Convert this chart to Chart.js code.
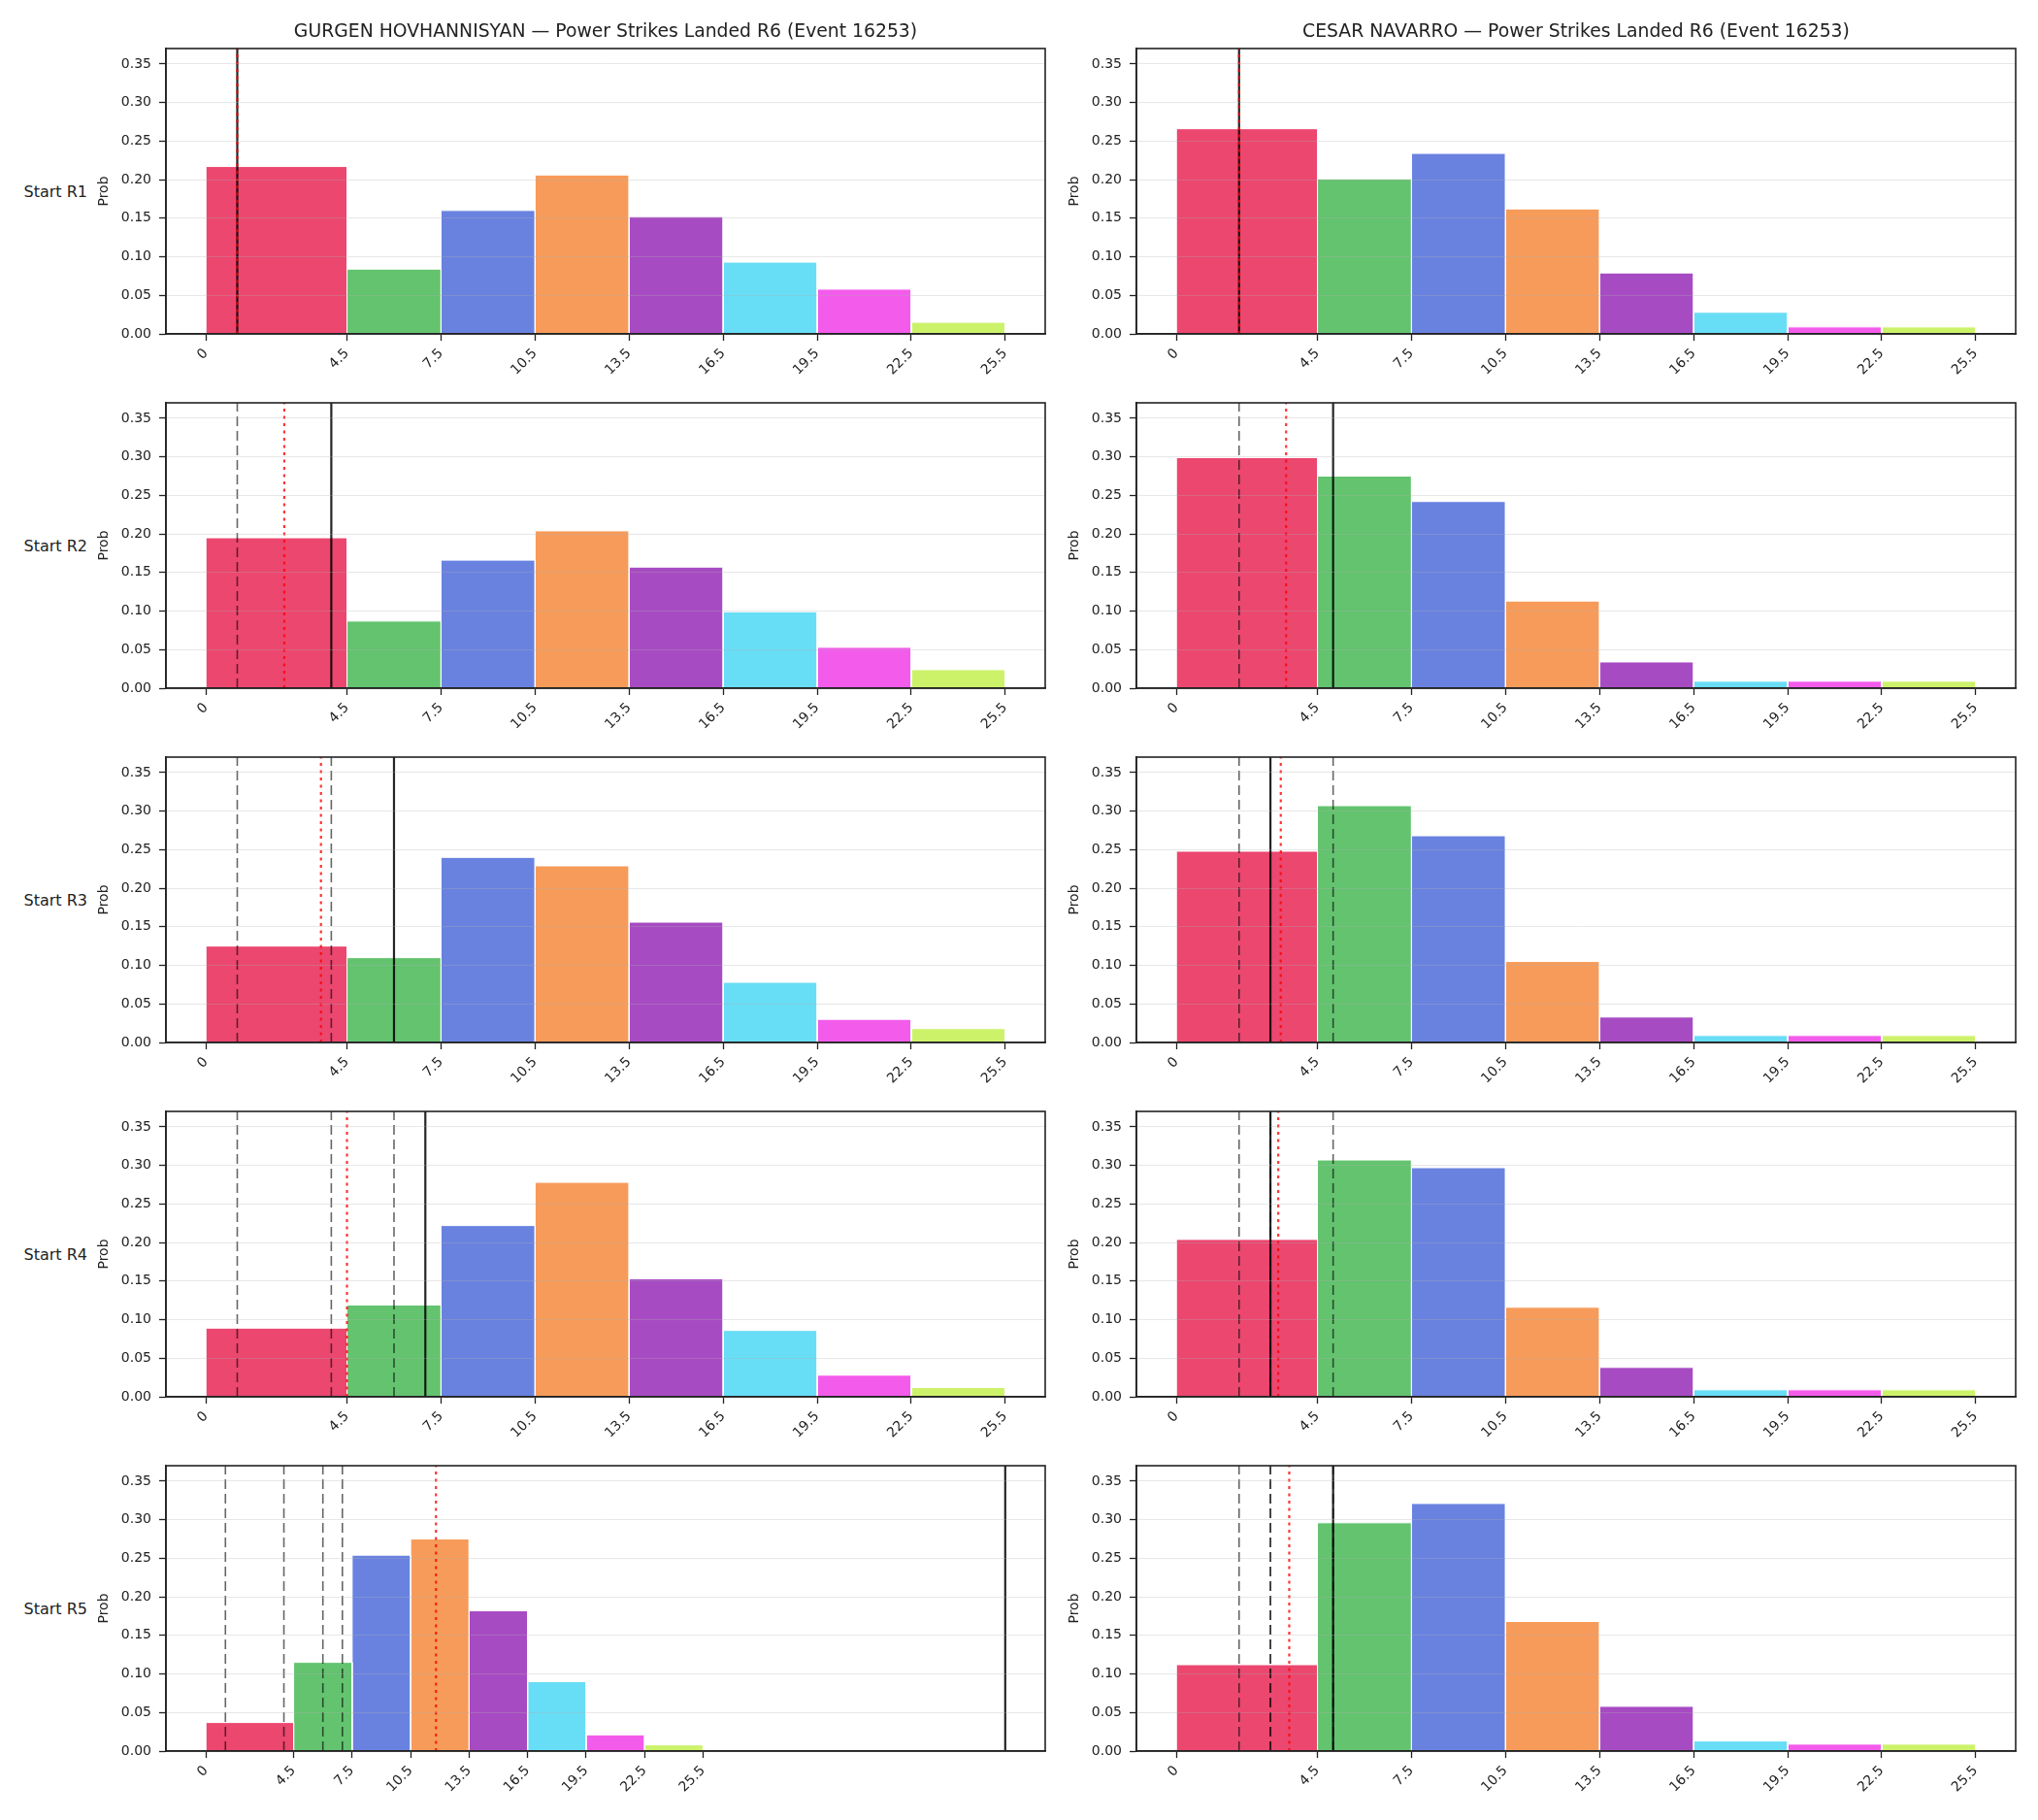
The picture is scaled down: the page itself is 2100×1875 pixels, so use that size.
<!DOCTYPE html>
<html lang="en">
<head>
<meta charset="UTF-8">
<title>Power Strikes Landed R6 (Event 16253)</title>
<script src="https://cdn.jsdelivr.net/npm/chart.js@4.4.1/dist/chart.umd.min.js"></script>
<style>
  body {
    margin: 0;
    width: 2100px;
    height: 1875px;
    position: relative;
    overflow: hidden;
    background: #fff;
    font-family: 'DejaVu Sans', sans-serif;
    color: #222;
  }
  canvas { position: absolute; }
  .title {
    position: absolute;
    font-size: 18.8px;
    white-space: nowrap;
    transform: translate(-50%, -50%);
  }
  .row-label {
    position: absolute;
    font-size: 16px;
    white-space: nowrap;
    transform: translate(-100%, -50%);
  }
</style>
</head>
<body>
<script>
// bin edges double as the x tick labels
const BIN_EDGES = [0, 4.5, 7.5, 10.5, 13.5, 16.5, 19.5, 22.5, 25.5];
const Y_TICKS = [0, 0.05, 0.10, 0.15, 0.20, 0.25, 0.30, 0.35];
const Y_MAX = 0.37;
const START_LABELS = ['Start R1', 'Start R2', 'Start R3', 'Start R4', 'Start R5'];
const FIGHTERS = ['GURGEN HOVHANNISYAN', 'CESAR NAVARRO'];

// probability per bin, one row per start round
const GURGEN_PROBS = [
  [0.217, 0.084, 0.160, 0.206, 0.152, 0.093, 0.058, 0.015],
  [0.195, 0.087, 0.166, 0.204, 0.157, 0.099, 0.053, 0.024],
  [0.125, 0.110, 0.240, 0.229, 0.156, 0.078, 0.030, 0.018],
  [0.089, 0.119, 0.222, 0.278, 0.153, 0.086, 0.028, 0.012],
  [0.037, 0.115, 0.254, 0.275, 0.182, 0.090, 0.021, 0.008]
];
const CESAR_PROBS = [
  [0.266, 0.201, 0.234, 0.162, 0.079, 0.028, 0.009, 0.009],
  [0.299, 0.275, 0.242, 0.113, 0.034, 0.009, 0.009, 0.009],
  [0.248, 0.307, 0.268, 0.105, 0.033, 0.009, 0.009, 0.009],
  [0.204, 0.307, 0.297, 0.116, 0.038, 0.009, 0.009, 0.009],
  [0.112, 0.296, 0.321, 0.168, 0.058, 0.013, 0.009, 0.009]
];

// landed per round (solid = current round, dashed = earlier rounds)
const GURGEN_LANDED = [1, 4, 6, 7, 41];
const CESAR_LANDED = [2, 5, 3, 3, 5];
// running average (red dotted)
const GURGEN_AVG = [1, 2.5, 3.67, 4.5, 11.8];
const CESAR_AVG = [2, 3.5, 3.33, 3.25, 3.6];

const BIN_COLORS = [
  'rgba(230,25,75,0.8)', 'rgba(60,180,75,0.8)', 'rgba(67,99,216,0.8)', 'rgba(245,130,49,0.8)',
  'rgba(145,30,180,0.8)', 'rgba(66,212,244,0.8)', 'rgba(240,50,230,0.8)', 'rgba(191,239,69,0.8)'
];

Chart.defaults.font.family = "'DejaVu Sans', sans-serif";
Chart.defaults.color = '#222';

const frame = {
  id: 'frame',
  afterDraw(chart) {
    const { ctx, chartArea: a } = chart;
    ctx.save();
    ctx.strokeStyle = '#222';
    ctx.lineWidth = 1.6;
    ctx.strokeRect(a.left, a.top, a.right - a.left, a.bottom - a.top);
    ctx.restore();
  }
};

const GREY = { borderColor: 'rgba(0,0,0,0.6)', borderWidth: 1.6, borderDash: [10, 5], order: 2 };
const BLACK = { borderColor: 'rgba(0,0,0,0.85)', borderWidth: 2.2, order: 1 };
const RED = { borderColor: 'rgba(255,0,0,0.8)', borderWidth: 2.2, borderDash: [3, 4.5], order: 0 };

function vline(x, style) {
  return Object.assign({ data: [{ x: x, y: 0 }, { x: x, y: Y_MAX }], pointRadius: 0, fill: false }, style);
}

function noPad(s) {
  s.paddingTop = 0;
  s.paddingBottom = 0;
  s.paddingLeft = 0;
  s.paddingRight = 0;
}

function panel(col, row, probs, landed, avg) {
  const left = 95 + col * 1000;
  const top = 40 + row * 365;
  const cv = document.createElement('canvas');
  cv.width = 992;
  cv.height = 364;
  cv.style.left = left + 'px';
  cv.style.top = top + 'px';
  document.body.appendChild(cv);

  const sets = probs.map((p, i) => ({
    data: [
      { x: BIN_EDGES[i], y: 0 }, { x: BIN_EDGES[i], y: p },
      { x: BIN_EDGES[i + 1], y: p }, { x: BIN_EDGES[i + 1], y: 0 }
    ],
    backgroundColor: BIN_COLORS[i],
    borderColor: '#fff',
    borderWidth: 1,
    pointRadius: 0,
    fill: 'origin',
    order: 3
  }));
  const prev = landed.slice(0, row);
  prev.forEach(v => sets.push(vline(v, GREY)));
  sets.push(vline(landed[row], BLACK));
  sets.push(vline(avg[row], RED));

  const xMax = Math.max(BIN_EDGES[BIN_EDGES.length - 1], landed[row], ...prev);

  new Chart(cv, {
    type: 'line',
    data: { datasets: sets },
    plugins: [frame],
    options: {
      responsive: false,
      animation: false,
      events: [],
      layout: { padding: { top: 10, right: 10, left: 0, bottom: 0 } },
      plugins: { legend: { display: false }, tooltip: { enabled: false } },
      elements: { line: { tension: 0 } },
      scales: {
        x: {
          type: 'linear',
          min: -0.05 * xMax,
          max: 1.05 * xMax,
          afterBuildTicks: s => { s.ticks = BIN_EDGES.map(v => ({ value: v })); },
          afterFit: s => { s.height = 60; noPad(s); },
          grid: { drawOnChartArea: false, tickLength: 7, tickColor: '#222', tickWidth: 1.3 },
          border: { color: '#222', width: 1.6, z: 1 },
          ticks: {
            autoSkip: false, minRotation: 45, maxRotation: 45, padding: 5,
            font: { size: 14 }, color: '#222', callback: v => String(v)
          }
        },
        y: {
          min: 0,
          max: Y_MAX,
          afterBuildTicks: s => { s.ticks = Y_TICKS.map(v => ({ value: v })); },
          afterFit: s => { s.width = 76; noPad(s); },
          grid: { color: 'rgba(176,176,176,0.3)', lineWidth: 1, z: 1, tickLength: 7, tickColor: '#222', tickWidth: 1.3 },
          border: { color: '#222', width: 1.6, z: 1 },
          ticks: { padding: 8, font: { size: 14 }, color: '#222', callback: v => v.toFixed(2) },
          title: { display: true, text: 'Prob', font: { size: 14 }, color: '#222', padding: { top: 4, bottom: 0 } }
        }
      }
    }
  });

  if (row === 0) {
    const t = document.createElement('div');
    t.className = 'title';
    t.textContent = FIGHTERS[col] + ' \u2014 Power Strikes Landed R6 (Event 16253)';
    t.style.left = (left + 76 + 453) + 'px';
    t.style.top = '31px';
    document.body.appendChild(t);
  }
  if (col === 0) {
    const l = document.createElement('div');
    l.className = 'row-label';
    l.textContent = START_LABELS[row];
    l.style.left = '90px';
    l.style.top = (top + 10 + 147) + 'px';
    document.body.appendChild(l);
  }
}

for (let r = 0; r < 5; r++) {
  panel(0, r, GURGEN_PROBS[r], GURGEN_LANDED, GURGEN_AVG);
  panel(1, r, CESAR_PROBS[r], CESAR_LANDED, CESAR_AVG);
}
</script>
</body>
</html>
